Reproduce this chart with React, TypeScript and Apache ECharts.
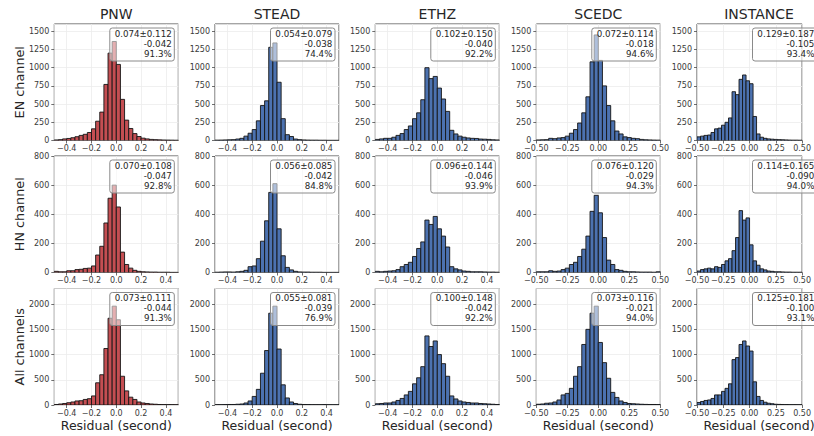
import React, { useEffect, useRef } from "react";
import * as echarts from "echarts";

// Column (dataset) and row (channel group) names
const datasetNames = ["PNW", "STEAD", "ETHZ", "SCEDC", "INSTANCE"];
const rowNames = ["EN channel", "HN channel", "All channels"];
const xAxisTitle = "Residual (second)";

// Histogram bins: 30 equal bins over [-0.5, 0.5]
const binStart = -0.5;
const binWidth = 1 / 30;

// Bin counts, EN channel
const pnwEN = [8, 12, 22, 28, 38, 52, 70, 85, 110, 160, 265, 390, 770, 1200, 1360, 1045, 565, 280, 165, 95, 55, 32, 22, 15, 12, 9, 7, 6, 5, 4];
const steadEN = [5, 6, 8, 10, 12, 20, 30, 60, 100, 150, 270, 480, 545, 1280, 1340, 800, 300, 80, 55, 20, 12, 8, 6, 5, 5, 4, 4, 3, 3, 3];
const ethzEN = [15, 22, 30, 30, 45, 70, 95, 150, 200, 300, 380, 560, 1000, 850, 880, 720, 570, 400, 140, 90, 60, 45, 35, 30, 28, 20, 18, 15, 10, 8];
const scedcEN = [8, 10, 12, 30, 25, 35, 40, 60, 100, 150, 240, 380, 600, 1080, 1450, 1100, 750, 480, 270, 130, 90, 50, 40, 30, 25, 15, 10, 8, 6, 5];
const instanceEN = [50, 60, 70, 75, 110, 160, 170, 210, 250, 310, 670, 630, 840, 900, 820, 780, 330, 90, 45, 30, 22, 18, 15, 12, 10, 8, 6, 5, 5, 4];

// Bin counts, HN channel
const pnwHN = [8, 5, 5, 12, 12, 20, 22, 28, 30, 45, 120, 180, 340, 510, 600, 450, 140, 55, 30, 15, 8, 5, 4, 3, 3, 2, 2, 2, 1, 1];
const steadHN = [2, 3, 4, 4, 3, 5, 8, 15, 40, 45, 95, 215, 355, 550, 610, 300, 115, 35, 18, 8, 4, 3, 3, 2, 2, 2, 1, 1, 1, 1];
const ethzHN = [8, 5, 8, 10, 12, 20, 40, 55, 70, 110, 165, 210, 360, 330, 385, 300, 250, 175, 40, 25, 18, 10, 8, 5, 5, 5, 4, 3, 3, 2];
const scedcHN = [5, 5, 5, 12, 8, 10, 20, 30, 55, 70, 110, 160, 250, 420, 530, 410, 240, 85, 55, 20, 15, 8, 5, 5, 4, 3, 3, 3, 2, 5];
const instanceHN = [10, 20, 25, 30, 25, 40, 35, 55, 80, 95, 150, 240, 425, 360, 375, 190, 80, 50, 25, 18, 10, 8, 5, 5, 4, 3, 3, 2, 2, 2];

// Bin counts, all channels
const pnwAll = [10, 20, 30, 45, 60, 80, 85, 110, 125, 180, 440, 600, 1120, 1720, 1960, 1690, 570, 280, 155, 110, 60, 40, 30, 20, 15, 10, 8, 6, 5, 4];
const steadAll = [5, 5, 8, 10, 10, 15, 20, 40, 80, 170, 310, 630, 1080, 1820, 1960, 1110, 400, 140, 60, 30, 15, 10, 8, 5, 5, 5, 8, 4, 3, 3];
const ethzAll = [25, 30, 40, 40, 60, 90, 130, 200, 270, 420, 540, 760, 1370, 1160, 1270, 1000, 820, 570, 180, 120, 80, 60, 50, 40, 40, 30, 25, 20, 15, 10];
const scedcAll = [15, 20, 35, 40, 60, 100, 200, 230, 330, 570, 760, 1200, 1500, 1820, 1960, 1240, 840, 530, 250, 150, 80, 50, 30, 25, 20, 15, 12, 10, 10, 8];
const instanceAll = [50, 70, 90, 100, 130, 200, 200, 270, 330, 420, 900, 940, 1200, 1270, 1170, 1070, 460, 170, 90, 55, 35, 25, 15, 12, 10, 8, 6, 5, 5, 4];

// Summary text per panel: "MAE±std", median, share within range
const statsEN = [
  ["0.074±0.112", "-0.042", "91.3%"],
  ["0.054±0.079", "-0.038", "74.4%"],
  ["0.102±0.150", "-0.040", "92.2%"],
  ["0.072±0.114", "-0.018", "94.6%"],
  ["0.129±0.187", "-0.105", "93.4%"],
];
const statsHN = [
  ["0.070±0.108", "-0.047", "92.8%"],
  ["0.056±0.085", "-0.042", "84.8%"],
  ["0.096±0.144", "-0.046", "93.9%"],
  ["0.076±0.120", "-0.029", "94.3%"],
  ["0.114±0.165", "-0.090", "94.0%"],
];
const statsAll = [
  ["0.073±0.111", "-0.044", "91.3%"],
  ["0.055±0.081", "-0.039", "76.9%"],
  ["0.100±0.148", "-0.042", "92.2%"],
  ["0.073±0.116", "-0.021", "94.0%"],
  ["0.125±0.181", "-0.100", "93.1%"],
];

// Y-axis range and tick step per row
const yMaxByRow = [1600, 800, 2310];
const yStepByRow = [250, 200, 500];

const countsByRow = [
  [pnwEN, steadEN, ethzEN, scedcEN, instanceEN],
  [pnwHN, steadHN, ethzHN, scedcHN, instanceHN],
  [pnwAll, steadAll, ethzAll, scedcAll, instanceAll],
];
const statsByRow = [statsEN, statsHN, statsAll];

// Layout of the 3 x 5 panel grid (pixels)
const cellLeft = [54.3, 215, 375.3, 536.3, 697];
const cellTop = [24, 156, 288.5];
const cellW = 124;
const cellH = 116.5;

const FONT = "DejaVu Sans";
const INK = "#262626";
const SPINE = "#4a4a4a";
const RED = "#C44E52";
const BLUE = "#4C72B0";

const minus = (s: string) => s.replace("-", "\u2212");

function textEl(x: number, y: number, text: string, font: string, align: string, vAlign: string, extra: any = {}) {
  return {
    type: "text",
    x,
    y,
    silent: true,
    ...extra,
    style: { text, font, fill: INK, align, verticalAlign: vAlign },
  };
}

function buildOption() {
  const grid: any[] = [];
  const xAxis: any[] = [];
  const yAxis: any[] = [];
  const series: any[] = [];
  const graphic: any[] = [];

  for (let r = 0; r < 3; r++) {
    for (let c = 0; c < 5; c++) {
      const k = r * 5 + c;
      const left = cellLeft[c];
      const top = cellTop[r];
      grid.push({
        left, top, width: cellW, height: cellH,
        show: true, borderColor: SPINE, borderWidth: 1, backgroundColor: "transparent",
      });

      // first three columns: 0.2 steps (auto), last two: 0.25 steps
      const quarter = c >= 3;
      xAxis.push({
        type: "value",
        gridIndex: k,
        min: -0.5,
        max: 0.5,
        ...(quarter ? { interval: 0.25 } : { splitNumber: 5 }),
        axisLine: { show: false, onZero: false },
        axisPointer: { show: false },
        axisTick: { show: true, length: 3, lineStyle: { color: SPINE, width: 0.8 } },
        axisLabel: {
          fontFamily: FONT, fontSize: 8, color: "#3a3a3a", margin: 4, hideOverlap: false,
          showMinLabel: quarter, showMaxLabel: quarter,
          formatter: (v: number) => minus(v.toFixed(quarter ? 2 : 1)),
        },
        splitLine: { show: true, lineStyle: { color: "#ececec", width: 0.8 } },
      });

      yAxis.push({
        type: "value",
        gridIndex: k,
        min: 0,
        max: yMaxByRow[r],
        interval: yStepByRow[r],
        axisLine: { show: false, onZero: false },
        axisPointer: { show: false },
        axisTick: { show: true, length: 3, lineStyle: { color: SPINE, width: 0.8 } },
        axisLabel: {
          fontFamily: FONT, fontSize: 8, color: "#3a3a3a", margin: 5, hideOverlap: false,
          showMaxLabel: r === 1,
          formatter: (v: number) => String(Math.round(v)),
        },
        splitLine: { show: true, lineStyle: { color: "#ececec", width: 0.8 } },
      });

      const counts = countsByRow[r][c];
      const fill = c === 0 ? RED : BLUE;
      series.push({
        type: "custom",
        xAxisIndex: k,
        yAxisIndex: k,
        clip: true,
        silent: true,
        label: { show: false },
        encode: { x: [0, 1], y: 2 },
        data: counts.map((v, i) => [binStart + i * binWidth, binStart + (i + 1) * binWidth, v]),
        renderItem: (_params: any, api: any) => {
          const p0 = api.coord([api.value(0), api.value(2)]);
          const p1 = api.coord([api.value(1), 0]);
          return {
            type: "rect",
            shape: { x: p0[0], y: p0[1], width: p1[0] - p0[0], height: p1[1] - p0[1] },
            style: { fill, stroke: "#151515", lineWidth: 0.9 },
          };
        },
      });

      // translucent summary box in the upper-right corner
      const boxW = 64.5;
      const boxH = 33;
      const boxRight = left + cellW - 4;
      const boxTop = top + 4;
      graphic.push({
        type: "rect",
        z: 100,
        silent: true,
        shape: { x: boxRight - boxW, y: boxTop, width: boxW, height: boxH, r: 2.5 },
        style: { fill: "rgba(255,255,255,0.55)", stroke: "#8a8a8a", lineWidth: 1 },
      });
      statsByRow[r][c].forEach((line, i) => {
        graphic.push(textEl(boxRight - 2.6, boxTop + 5.6 + i * 10, line, `8.7px ${FONT}`, "right", "middle", { z: 101 }));
      });
    }
  }

  // column titles and x-axis titles
  datasetNames.forEach((name, c) => {
    graphic.push(textEl(cellLeft[c] + cellW / 2, 13.5, name, `14px ${FONT}`, "center", "middle"));
    graphic.push(textEl(cellLeft[c] + cellW / 2, 425.5, xAxisTitle, `12.5px ${FONT}`, "center", "middle"));
  });

  // row labels
  rowNames.forEach((name, r) => {
    graphic.push(textEl(19, cellTop[r] + cellH / 2, name, `12.8px ${FONT}`, "center", "middle", { rotation: Math.PI / 2 }));
  });

  return {
    animation: false,
    backgroundColor: "#ffffff",
    textStyle: { fontFamily: FONT },
    grid, xAxis, yAxis, series,
    graphic: { elements: graphic },
  };
}

export default function App() {
  const ref = useRef<HTMLDivElement>(null);
  useEffect(() => {
    if (!ref.current) return;
    const chart = echarts.init(ref.current, undefined, { renderer: "svg" });
    chart.setOption(buildOption() as any);
    return () => chart.dispose();
  }, []);
  return <div ref={ref} style={{ position: "absolute", left: 0, top: 0, width: 814, height: 436 }} />;
}
